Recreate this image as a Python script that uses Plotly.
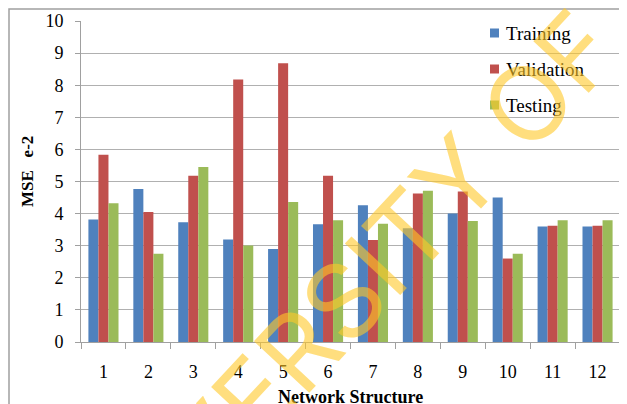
import plotly.graph_objects as go

categories = ["1", "2", "3", "4", "5", "6", "7", "8", "9", "10", "11", "12"]
training = [3.82, 4.77, 3.73, 3.19, 2.90, 3.67, 4.26, 3.54, 4.00, 4.50, 3.60, 3.60]
validation = [5.83, 4.05, 5.18, 8.18, 8.68, 5.18, 3.18, 4.63, 4.69, 2.60, 3.62, 3.62]
testing = [4.32, 2.75, 5.45, 3.01, 4.36, 3.79, 3.68, 4.71, 3.77, 2.75, 3.79, 3.79]
series_names = ["Training", "Validation", "Testing"]
colors = ["#4F81BD", "#C0504D", "#9BBB59"]
y_ticks = [0, 1, 2, 3, 4, 5, 6, 7, 8, 9, 10]

SERIF = "Liberation Serif"

# plot area in page pixels (page has an 8px body margin)
PX0, PX1, PY0, PY1 = 81, 620, 21, 342
def px(x):
    return (x - PX0) / (PX1 - PX0)
def py(y):
    return (PY1 - y) / (PY1 - PY0)

fig = go.Figure()
for name, vals, c in zip(series_names, [training, validation, testing], colors):
    fig.add_trace(go.Bar(
        x=categories, y=vals, name=name,
        marker=dict(color=c, line=dict(width=0)),
    ))

annotations = [
    dict(text="<b>MSE\u00a0\u00a0\u00a0e-2</b>", xref="paper", yref="paper",
         x=px(27), y=py(172), textangle=-90,
         showarrow=False, xanchor="center", yanchor="middle",
         font=dict(family=SERIF, size=17, color="black")),
    dict(text="<b>Network Structure</b>", xref="paper", yref="paper",
         x=0.5, y=py(397),
         showarrow=False, xanchor="center", yanchor="middle",
         font=dict(family=SERIF, size=18, color="black")),
]
shapes = [
    dict(type="rect", xref="paper", yref="paper",
         x0=px(9), x1=px(680), y0=py(460), y1=py(9),
         line=dict(color="#A0A0A0", width=1.5), fillcolor="rgba(0,0,0,0)",
         layer="below"),
]

# legend (top right, stacked entries)
legend_rows = [33, 69, 105]
for name, c, ry in zip(series_names, colors, legend_rows):
    shapes.append(dict(type="rect", xref="paper", yref="paper",
                       x0=px(490), x1=px(499), y0=py(ry + 4.5), y1=py(ry - 4.5),
                       fillcolor=c, line=dict(width=0), layer="above"))
    annotations.append(dict(text=name, xref="paper", yref="paper",
                            x=px(504), y=py(ry), xanchor="left", yanchor="middle",
                            showarrow=False,
                            font=dict(family=SERIF, size=19, color="black")))

# watermark overlay
annotations.append(dict(text="UNIVERSITY OF", xref="paper", yref="paper",
                        x=px(327), y=py(318), textangle=-47,
                        showarrow=False, xanchor="center", yanchor="middle",
                        font=dict(family="Inter", size=104, weight=400,
                                  color="rgba(255,200,40,0.6)")))

fig.update_layout(
    width=627, height=404,
    margin=dict(l=PX0 - 8, r=627 + 8 - PX1, t=PY0 - 8, b=404 + 8 - PY1),
    paper_bgcolor="white", plot_bgcolor="white",
    barmode="group", bargap=0.33, bargroupgap=0,
    font=dict(family=SERIF, color="black"),
    showlegend=False,
    xaxis=dict(
        type="category", showgrid=False, automargin=False,
        showline=True, linecolor="#A0A0A0", linewidth=1,
        ticks="outside", ticklen=6, tickcolor="#A0A0A0", tickson="boundaries",
        tickfont=dict(family=SERIF, size=18, color="black"),
        ticklabelstandoff=13,
    ),
    yaxis=dict(
        range=[0, 10], tickvals=y_ticks, automargin=False,
        showgrid=True, gridcolor="#B0B0B0", gridwidth=1,
        showline=True, linecolor="#A0A0A0", linewidth=1,
        ticks="outside", ticklen=5, tickcolor="#A0A0A0",
        tickfont=dict(family=SERIF, size=18, color="black"),
        ticklabelstandoff=8, zeroline=False,
    ),
    annotations=annotations,
    shapes=shapes,
)

fig.write_html("out.html")
